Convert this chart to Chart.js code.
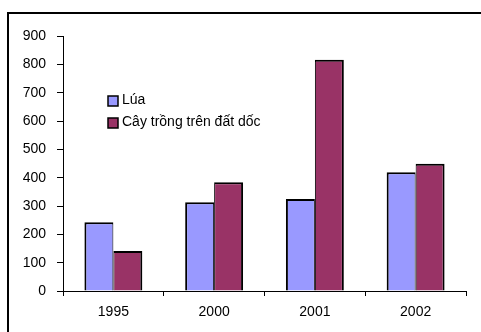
<!DOCTYPE html>
<html>
<head>
<meta charset="utf-8">
<script src="https://cdn.jsdelivr.net/npm/chart.js@4/dist/chart.umd.min.js"></script>
<style>
  html, body { margin: 0; padding: 0; background: #fff; }
  #wrap { width: 481px; height: 332px; }
</style>
</head>
<body>
<div id="wrap"><canvas id="c" width="481" height="332"></canvas></div>
<script>
// Năm
const categories = ['1995', '2000', '2001', '2002'];
// Tên các chuỗi số liệu
const seriesNames = ['Lúa', 'Cây trồng trên đất dốc'];
const luaValues = [243, 313, 325, 419];
const cayTrongValues = [141, 384, 816, 449];
// Vạch chia trục tung
const yTicks = [0, 100, 200, 300, 400, 500, 600, 700, 800, 900];

const FONT = 'Liberation Sans, Arial, sans-serif';
const colors = ['#9999FF', '#993366'];

// Khung viền ngoài của biểu đồ
const framePlugin = {
  id: 'frame',
  beforeDraw(chart) {
    const ctx = chart.ctx;
    ctx.save();
    ctx.fillStyle = '#fff';
    ctx.fillRect(0, 0, chart.width, chart.height);
    ctx.strokeStyle = '#000';
    ctx.lineWidth = 2;
    ctx.strokeRect(8, 13, 600, 500);
    ctx.restore();
  }
};

// Chú giải đặt bên trong vùng vẽ
const insideLegend = {
  id: 'insideLegend',
  afterDraw(chart) {
    const ctx = chart.ctx;
    ctx.save();
    ctx.font = '14px ' + FONT;
    ctx.textBaseline = 'middle';
    chart.data.datasets.forEach((ds, i) => {
      const x = 108, y = 96 + i * 22;
      ctx.fillStyle = ds.backgroundColor;
      ctx.fillRect(x, y, 10, 10);
      ctx.strokeStyle = '#000';
      ctx.lineWidth = 1.5;
      ctx.strokeRect(x, y, 10, 10);
      ctx.fillStyle = '#000';
      ctx.fillText(ds.label, x + 14, y + 4);
    });
    ctx.restore();
  }
};

new Chart(document.getElementById('c'), {
  type: 'bar',
  data: {
    labels: categories,
    datasets: [
      {
        label: seriesNames[0],
        data: luaValues,
        backgroundColor: colors[0],
        borderColor: '#000',
        borderWidth: { top: 2, left: 2, right: 1, bottom: 0 },
        barPercentage: 1,
        categoryPercentage: 0.575
      },
      {
        label: seriesNames[1],
        data: cayTrongValues,
        backgroundColor: colors[1],
        borderColor: '#000',
        borderWidth: { top: 2, left: 1, right: 2, bottom: 0 },
        barPercentage: 1,
        categoryPercentage: 0.575
      }
    ]
  },
  options: {
    responsive: false,
    animation: false,
    layout: { padding: { left: 0, right: 15, top: 36, bottom: 0 } },
    plugins: {
      legend: { display: false },
      tooltip: { enabled: false }
    },
    scales: {
      x: {
        grid: {
          display: true,
          drawOnChartArea: false,
          offset: true,
          tickLength: 5,
          color: '#000'
        },
        border: { display: true, color: '#000', width: 1 },
        ticks: {
          color: '#000',
          font: { family: FONT, size: 14 },
          padding: 8
        },
        afterFit(scale) { scale.height = 41; }
      },
      y: {
        min: 0,
        max: 900,
        afterBuildTicks(scale) {
          scale.ticks = yTicks.map(v => ({ value: v }));
        },
        grid: {
          display: true,
          drawOnChartArea: false,
          tickLength: 6,
          color: '#000'
        },
        border: { display: true, color: '#000', width: 1 },
        ticks: {
          color: '#000',
          font: { family: FONT, size: 14 },
          padding: 11
        },
        afterFit(scale) { scale.width = 63; }
      }
    }
  },
  plugins: [framePlugin, insideLegend]
});
</script>
</body>
</html>
